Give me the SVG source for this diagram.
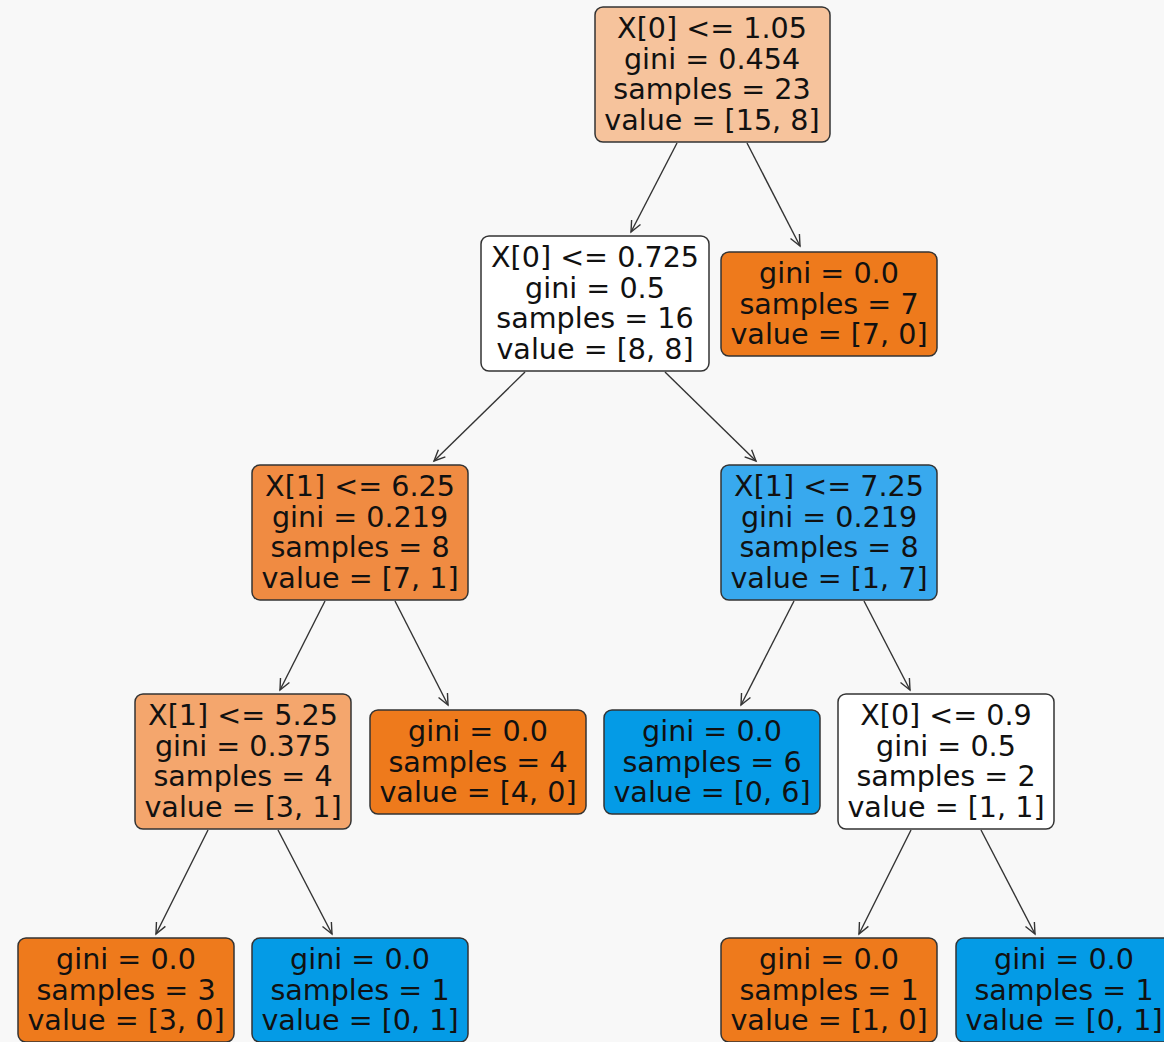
<svg xmlns="http://www.w3.org/2000/svg" width="1164" height="1042" viewBox="0 0 1164 1042">
<style>
.box{stroke:#333;stroke-width:1.5}
text{font-family:"DejaVu Sans",sans-serif;font-size:28.6px;fill:#111;text-anchor:middle}
.edge{stroke:#333;stroke-width:1.4;fill:none}
</style>
<defs>
<marker id="ah" markerUnits="userSpaceOnUse" markerWidth="16" markerHeight="14" refX="12" refY="6" orient="auto">
<path d="M1,1 L12,6 L1,11" fill="none" stroke="#333" stroke-width="1.4"/>
</marker>
</defs>
<rect width="1164" height="1042" fill="#f8f8f8"/>
<g id="connectors">
<line class="edge" x1="677" y1="143" x2="631" y2="232" marker-end="url(#ah)"/>
<line class="edge" x1="747" y1="143" x2="800" y2="246" marker-end="url(#ah)"/>
<line class="edge" x1="525" y1="372" x2="434" y2="461" marker-end="url(#ah)"/>
<line class="edge" x1="665" y1="372" x2="756" y2="461" marker-end="url(#ah)"/>
<line class="edge" x1="325" y1="601" x2="280" y2="690" marker-end="url(#ah)"/>
<line class="edge" x1="395" y1="601" x2="448" y2="705" marker-end="url(#ah)"/>
<line class="edge" x1="794" y1="601" x2="741" y2="705" marker-end="url(#ah)"/>
<line class="edge" x1="864" y1="601" x2="910" y2="690" marker-end="url(#ah)"/>
<line class="edge" x1="208" y1="830" x2="156" y2="934" marker-end="url(#ah)"/>
<line class="edge" x1="278" y1="830" x2="332" y2="934" marker-end="url(#ah)"/>
<line class="edge" x1="911" y1="830" x2="859" y2="934" marker-end="url(#ah)"/>
<line class="edge" x1="981" y1="830" x2="1035" y2="934" marker-end="url(#ah)"/>
</g>
<g id="n0">
<rect class="box" x="595" y="7" width="235" height="135" rx="8" fill="#f6c39c"/>
<text x="712" y="38">X[0] &lt;= 1.05</text>
<text x="712" y="68.5">gini = 0.454</text>
<text x="712" y="99">samples = 23</text>
<text x="712" y="129.5">value = [15, 8]</text>
</g>
<g id="n1">
<rect class="box" x="481" y="236" width="228" height="135" rx="8" fill="#ffffff"/>
<text x="595" y="267">X[0] &lt;= 0.725</text>
<text x="595" y="297.5">gini = 0.5</text>
<text x="595" y="328">samples = 16</text>
<text x="595" y="358.5">value = [8, 8]</text>
</g>
<g id="n2">
<rect class="box" x="721" y="252" width="216" height="104" rx="8" fill="#ee7a1c"/>
<text x="829" y="283">gini = 0.0</text>
<text x="829" y="313.5">samples = 7</text>
<text x="829" y="344">value = [7, 0]</text>
</g>
<g id="n3">
<rect class="box" x="252" y="465" width="216" height="135" rx="8" fill="#f08b42"/>
<text x="360" y="496">X[1] &lt;= 6.25</text>
<text x="360" y="526.5">gini = 0.219</text>
<text x="360" y="557">samples = 8</text>
<text x="360" y="587.5">value = [7, 1]</text>
</g>
<g id="n4">
<rect class="box" x="721" y="465" width="216" height="135" rx="8" fill="#38a9ee"/>
<text x="829" y="496">X[1] &lt;= 7.25</text>
<text x="829" y="526.5">gini = 0.219</text>
<text x="829" y="557">samples = 8</text>
<text x="829" y="587.5">value = [1, 7]</text>
</g>
<g id="n5">
<rect class="box" x="135" y="694" width="216" height="135" rx="8" fill="#f4a66d"/>
<text x="243" y="725">X[1] &lt;= 5.25</text>
<text x="243" y="755.5">gini = 0.375</text>
<text x="243" y="786">samples = 4</text>
<text x="243" y="816.5">value = [3, 1]</text>
</g>
<g id="n6">
<rect class="box" x="370" y="710" width="216" height="104" rx="8" fill="#ee7a1c"/>
<text x="478" y="741">gini = 0.0</text>
<text x="478" y="771.5">samples = 4</text>
<text x="478" y="802">value = [4, 0]</text>
</g>
<g id="n7">
<rect class="box" x="604" y="710" width="216" height="104" rx="8" fill="#049be6"/>
<text x="712" y="741">gini = 0.0</text>
<text x="712" y="771.5">samples = 6</text>
<text x="712" y="802">value = [0, 6]</text>
</g>
<g id="n8">
<rect class="box" x="838" y="694" width="216" height="135" rx="8" fill="#ffffff"/>
<text x="946" y="725">X[0] &lt;= 0.9</text>
<text x="946" y="755.5">gini = 0.5</text>
<text x="946" y="786">samples = 2</text>
<text x="946" y="816.5">value = [1, 1]</text>
</g>
<g id="n9">
<rect class="box" x="18" y="938" width="216" height="104" rx="8" fill="#ee7a1c"/>
<text x="126" y="969">gini = 0.0</text>
<text x="126" y="999.5">samples = 3</text>
<text x="126" y="1030">value = [3, 0]</text>
</g>
<g id="n10">
<rect class="box" x="252" y="938" width="216" height="104" rx="8" fill="#049be6"/>
<text x="360" y="969">gini = 0.0</text>
<text x="360" y="999.5">samples = 1</text>
<text x="360" y="1030">value = [0, 1]</text>
</g>
<g id="n11">
<rect class="box" x="721" y="938" width="216" height="104" rx="8" fill="#ee7a1c"/>
<text x="829" y="969">gini = 0.0</text>
<text x="829" y="999.5">samples = 1</text>
<text x="829" y="1030">value = [1, 0]</text>
</g>
<g id="n12">
<rect class="box" x="956" y="938" width="216" height="104" rx="8" fill="#049be6"/>
<text x="1064" y="969">gini = 0.0</text>
<text x="1064" y="999.5">samples = 1</text>
<text x="1064" y="1030">value = [0, 1]</text>
</g>
</svg>
